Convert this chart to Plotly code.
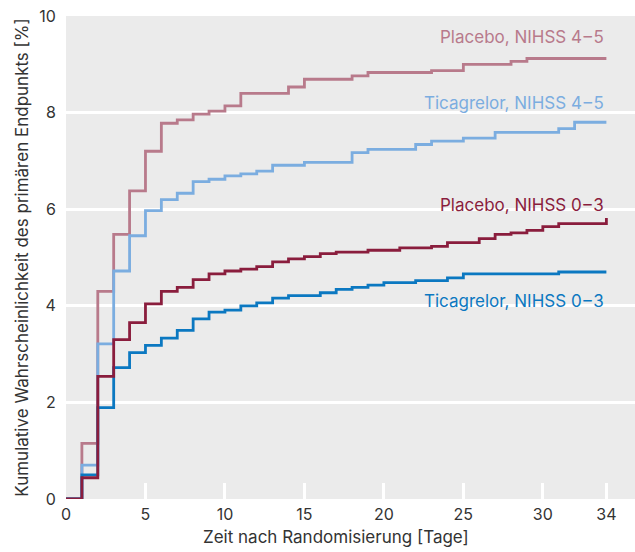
import plotly.graph_objects as go

# Kaplan-Meier style cumulative event probability (%) by day
days_placebo_45 = [0, 1, 2, 3, 4, 5, 6, 7, 8, 9, 10, 11, 14, 15, 18, 19, 23, 25, 28, 29, 34]
vals_placebo_45 = [0, 1.15, 4.3, 5.48, 6.38, 7.2, 7.78, 7.85, 7.97, 8.03, 8.14, 8.4, 8.53, 8.69, 8.76, 8.83, 8.87, 9.0, 9.06, 9.12, 9.12]

days_ticag_45 = [0, 1, 2, 3, 4, 5, 6, 7, 8, 9, 10, 11, 12, 13, 15, 18, 19, 22, 23, 25, 27, 31, 32, 34]
vals_ticag_45 = [0, 0.7, 3.21, 4.72, 5.45, 5.97, 6.2, 6.33, 6.57, 6.62, 6.69, 6.73, 6.79, 6.91, 6.97, 7.17, 7.24, 7.34, 7.41, 7.47, 7.59, 7.67, 7.8, 7.8]

days_placebo_03 = [0, 1, 2, 3, 4, 5, 6, 7, 8, 9, 10, 11, 12, 13, 14, 15, 16, 17, 19, 21, 23, 24, 26, 27, 28, 29, 30, 31, 34, 34]
vals_placebo_03 = [0, 0.44, 2.54, 3.3, 3.65, 4.04, 4.3, 4.38, 4.54, 4.66, 4.72, 4.76, 4.81, 4.91, 4.97, 5.02, 5.08, 5.11, 5.15, 5.2, 5.23, 5.31, 5.39, 5.48, 5.51, 5.56, 5.64, 5.7, 5.7, 5.82]

days_ticag_03 = [0, 1, 2, 3, 4, 5, 6, 7, 8, 9, 10, 11, 12, 13, 14, 16, 17, 18, 19, 20, 22, 24, 25, 31, 34]
vals_ticag_03 = [0, 0.5, 1.89, 2.72, 3.03, 3.18, 3.33, 3.49, 3.73, 3.87, 3.91, 4.0, 4.06, 4.16, 4.21, 4.27, 4.34, 4.38, 4.43, 4.48, 4.52, 4.58, 4.66, 4.7, 4.7]

x_ticks = [0, 5, 10, 15, 20, 25, 30, 34]
y_ticks = [0, 2, 4, 6, 8, 10]

series = [
    ("Placebo, NIHSS 4\u200a\u2013\u200a5", days_placebo_45, vals_placebo_45, "#b87a8b", 9.57),
    ("Ticagrelor, NIHSS 4\u200a\u2013\u200a5", days_ticag_45, vals_ticag_45, "#7badE0", 8.2),
    ("Ticagrelor, NIHSS 0\u200a\u2013\u200a3", days_ticag_03, vals_ticag_03, "#0b78c1", 4.1),
    ("Placebo, NIHSS 0\u200a\u2013\u200a3", days_placebo_03, vals_placebo_03, "#8a1d3d", 6.08),
]

FONT = "Inter"

fig = go.Figure()
for name, xs, ys, color, label_y in series:
    fig.add_trace(go.Scatter(
        x=xs, y=ys, mode="lines", line=dict(shape="hv", color=color, width=2.8),
        name=name, showlegend=False, hoverinfo="skip",
    ))
    fig.add_annotation(
        x=34, y=label_y, text=name, showarrow=False, xanchor="right", yanchor="middle",
        font=dict(family=FONT, size=17, color=color),
    )

# x-axis title, centred under the 0–34 day span
fig.add_annotation(
    x=17, xref="x", y=0, yref="paper", yanchor="top", yshift=-26,
    text="Zeit nach Randomisierung [Tage]", showarrow=False,
    font=dict(family=FONT, size=17, color="#333333"),
)

fig.update_layout(
    width=635, height=552,
    margin=dict(l=66, r=0, t=16, b=53),
    paper_bgcolor="white", plot_bgcolor="#ebebeb",
    font=dict(family=FONT, size=16, color="#333333"),
)
fig.update_xaxes(
    range=[0, 35.8], tickvals=x_ticks, ticktext=[str(v) for v in x_ticks],
    showgrid=False, zeroline=False, showline=False,
    ticks="inside", ticklen=16, tickwidth=3, tickcolor="white",
    ticklabelstandoff=4,
)
fig.update_yaxes(
    range=[0, 10], tickvals=y_ticks, ticktext=[str(v) for v in y_ticks],
    showgrid=True, gridcolor="white", gridwidth=3, zeroline=False, showline=False,
    ticks="outside", ticklen=6, tickcolor="rgba(0,0,0,0)",
    title=dict(text="Kumulative Wahrscheinlichkeit des primären Endpunkts [%]", standoff=6, font=dict(size=17)),
)

fig.write_html("out.html")
